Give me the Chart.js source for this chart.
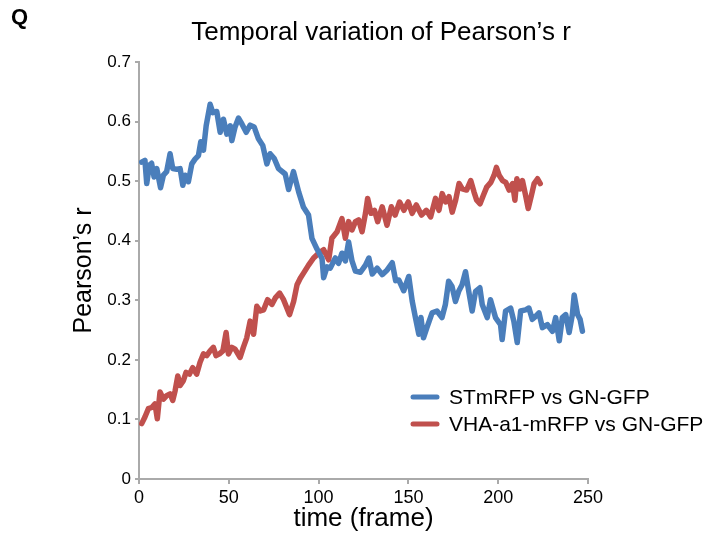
<!DOCTYPE html>
<html>
<head>
<meta charset="utf-8">
<title>Temporal variation of Pearson's r</title>
<script src="https://cdn.jsdelivr.net/npm/chart.js@4/dist/chart.umd.min.js"></script>
<style>
  html, body { margin: 0; padding: 0; background: #fff; }
  #wrap { position: relative; width: 713px; height: 544px; }
</style>
</head>
<body>
<div id="wrap"><canvas id="chart"></canvas></div>
<script>
// Values (frame, Pearson's r)
const blueFrames = [1.5, 3.3, 4.3, 5.8, 7, 8.4, 9.9, 12, 13.6, 15.4, 17.3, 18.8, 21, 22.9, 24.4, 25.7, 27.5, 29.4, 31.2, 33.1,
  34.4, 35.9, 37.4, 39.6, 41.1, 43.3, 45.2, 47, 48.9, 50.8, 51.7, 53.5, 55.4, 57.3, 59.7, 61.9, 64.1, 66.5, 68.9, 71.2,
  73, 75.3, 77.7, 81.4, 83.3, 86, 88.9, 91.6, 94.4, 96.3, 99.1, 101.9, 102.8, 104.7, 106.5, 109.3, 111.1, 113, 114.9, 116.7,
  118.6, 120.5, 123.3, 126.1, 128, 129.9, 132.6, 135.4, 138.2, 141, 142.9, 144.7, 147.4, 150.2, 152.1, 153.9, 155.8, 157, 158.4, 160.3,
  163.2, 165.9, 168.7, 170.6, 172.4, 174.3, 176.2, 178, 179.9, 181.8, 183.6, 185.5, 187.4, 189.8, 191.1, 193.9, 195.7, 198.5, 201.3, 202.2,
  204.1, 206.9, 208.7, 210.6, 212.5, 215.2, 217.1, 219, 220.8, 222.7, 224.6, 227.4, 230.2, 232, 234, 235.7, 237.6, 239.5, 241.3, 242.3,
  244.2, 245.6, 246.9];
const blueValues = [0.532, 0.535, 0.496, 0.527, 0.53, 0.507, 0.521, 0.489, 0.51, 0.516, 0.546, 0.521, 0.52, 0.521, 0.493, 0.51, 0.499, 0.529, 0.537, 0.543,
  0.566, 0.552, 0.593, 0.629, 0.615, 0.617, 0.582, 0.604, 0.579, 0.593, 0.568, 0.591, 0.606, 0.596, 0.582, 0.594, 0.591, 0.571, 0.56, 0.529,
  0.546, 0.538, 0.521, 0.512, 0.486, 0.516, 0.482, 0.456, 0.443, 0.404, 0.386, 0.37, 0.338, 0.356, 0.354, 0.371, 0.362, 0.379, 0.366, 0.398,
  0.366, 0.349, 0.347, 0.359, 0.371, 0.344, 0.354, 0.343, 0.351, 0.363, 0.333, 0.334, 0.316, 0.34, 0.299, 0.271, 0.243, 0.271, 0.237, 0.254,
  0.279, 0.282, 0.271, 0.293, 0.332, 0.323, 0.298, 0.315, 0.326, 0.348, 0.315, 0.282, 0.315, 0.321, 0.293, 0.271, 0.301, 0.271, 0.259, 0.234,
  0.282, 0.287, 0.265, 0.229, 0.282, 0.284, 0.287, 0.268, 0.273, 0.279, 0.254, 0.259, 0.248, 0.271, 0.232, 0.271, 0.276, 0.246, 0.276, 0.309,
  0.276, 0.268, 0.248];

const redFrames = [1.5, 3.3, 5.2, 7.1, 8.9, 10.2, 11.7, 13.6, 15.4, 17.3, 18.8, 20.1, 21.6, 22.9, 24.7, 26.2, 28.1, 29.9, 32.1, 34,
  35.9, 37.7, 39.6, 41.4, 42.9, 44.8, 46.7, 48.5, 49.8, 51.7, 53.5, 56.3, 58.1, 60, 61.9, 63.8, 65.6, 67.5, 69.4, 71.6,
  74, 75.9, 78.3, 80.5, 83.8, 86.1, 88, 89.8, 91.7, 94.4, 97.2, 100, 102.8, 105.6, 107.4, 110.3, 113, 114.9, 116.7, 118.6,
  120.5, 122.3, 124.2, 126.1, 127.3, 129.2, 131.1, 132.9, 135.4, 138.1, 140.5, 142.6, 145.1, 147.5, 149.9, 152.1, 154.4, 157.3, 160, 162.4,
  165.1, 167, 168.8, 170.7, 172.6, 174.4, 176.3, 178.2, 180, 182.4, 184.7, 186.5, 188, 189.9, 191.7, 193.6, 195.9, 197.7, 199, 200.5,
  202.4, 204.2, 206.1, 208, 209.3, 210.4, 212.2, 213.5, 215.4, 216.7, 218.5, 220, 221.9, 223.4];
const redValues = [0.093, 0.104, 0.118, 0.12, 0.126, 0.101, 0.146, 0.134, 0.14, 0.143, 0.132, 0.148, 0.173, 0.157, 0.165, 0.179, 0.176, 0.187, 0.176, 0.196,
  0.21, 0.207, 0.215, 0.221, 0.207, 0.21, 0.215, 0.246, 0.21, 0.221, 0.218, 0.204, 0.221, 0.237, 0.265, 0.243, 0.29, 0.282, 0.284, 0.301,
  0.293, 0.304, 0.312, 0.301, 0.276, 0.298, 0.326, 0.337, 0.346, 0.359, 0.371, 0.379, 0.385, 0.368, 0.404, 0.415, 0.437, 0.404, 0.432, 0.418,
  0.432, 0.435, 0.415, 0.446, 0.471, 0.446, 0.451, 0.432, 0.457, 0.426, 0.457, 0.443, 0.465, 0.451, 0.465, 0.446, 0.46, 0.443, 0.451, 0.44,
  0.471, 0.451, 0.479, 0.465, 0.474, 0.448, 0.468, 0.496, 0.487, 0.485, 0.501, 0.482, 0.468, 0.462, 0.476, 0.49, 0.498, 0.51, 0.523, 0.51,
  0.501, 0.498, 0.485, 0.496, 0.468, 0.504, 0.487, 0.501, 0.474, 0.454, 0.476, 0.496, 0.504, 0.496];

const xTicks = [0, 50, 100, 150, 200, 250];
const yTicks = [0, 0.1, 0.2, 0.3, 0.4, 0.5, 0.6, 0.7];
const seriesNames = ["STmRFP vs GN-GFP", "VHA-a1-mRFP vs GN-GFP"];
const seriesColors = ["#4a7ebb", "#c0504d"];
const chartTitle = "Temporal variation of Pearson\u2019s r";

const FONT = "'Liberation Sans', Arial, sans-serif";
const axisGray = "#aaaaaa";

function toPoints(xs, ys) {
  return xs.map((x, i) => ({ x: x, y: ys[i] }));
}

// title, panel letter and the legend inside the plot (bottom right)
const extras = {
  id: "extras",
  afterDraw(chart) {
    const ctx = chart.ctx;
    ctx.save();
    ctx.fillStyle = "#000";
    ctx.textBaseline = "middle";

    ctx.font = "bold 22px " + FONT;
    ctx.textAlign = "left";
    ctx.fillText("Q", 11, 18);

    ctx.font = "26px " + FONT;
    ctx.textAlign = "center";
    ctx.fillText(chartTitle, 381, 33);

    ctx.font = "21px " + FONT;
    ctx.textAlign = "left";
    chart.data.datasets.forEach((ds, i) => {
      const y = 397 + i * 27;
      ctx.strokeStyle = ds.borderColor;
      ctx.lineWidth = 5;
      ctx.lineCap = "round";
      ctx.beginPath();
      ctx.moveTo(413, y);
      ctx.lineTo(437, y);
      ctx.stroke();
      ctx.fillText(ds.label, 449, y + 1);
    });
    ctx.restore();
  }
};

Chart.defaults.font.family = FONT;
Chart.defaults.color = "#000";

new Chart(document.getElementById("chart"), {
  type: "line",
  data: {
    datasets: [
      {
        label: seriesNames[0],
        data: toPoints(blueFrames, blueValues),
        borderColor: seriesColors[0],
      },
      {
        label: seriesNames[1],
        data: toPoints(redFrames, redValues),
        borderColor: seriesColors[1],
      },
    ],
  },
  options: {
    responsive: true,
    maintainAspectRatio: false,
    animation: false,
    devicePixelRatio: 1,
    layout: { padding: { left: 0, right: 125, top: 62, bottom: 0 } },
    elements: {
      point: { radius: 0 },
      line: { borderWidth: 5.5, tension: 0, borderJoinStyle: "round", borderCapStyle: "round", fill: false },
    },
    plugins: {
      legend: { display: false },
      tooltip: { enabled: false },
      title: { display: false },
    },
    scales: {
      x: {
        type: "linear",
        min: 0,
        max: 250,
        afterBuildTicks: (s) => { s.ticks = xTicks.map((v) => ({ value: v })); },
        afterFit: (s) => { s.height = 65; },
        ticks: { font: { size: 18 }, color: "#000", padding: 3, maxRotation: 0 },
        grid: { drawOnChartArea: false, drawTicks: true, tickLength: 5, color: axisGray, lineWidth: 2 },
        border: { color: axisGray, width: 2 },
        title: { display: true, text: "time (frame)", font: { size: 26 }, color: "#000", padding: { top: 0, bottom: 10 } },
      },
      y: {
        min: 0,
        max: 0.7,
        afterBuildTicks: (s) => { s.ticks = yTicks.map((v) => ({ value: v })); },
        afterFit: (s) => { s.width = 139; },
        ticks: {
          font: { size: 17 },
          color: "#000",
          padding: 4,
          callback: (v) => (v === 0 ? "0" : v.toFixed(1)),
        },
        grid: { drawOnChartArea: false, drawTicks: true, tickLength: 4, color: axisGray, lineWidth: 2 },
        border: { color: axisGray, width: 2 },
        title: { display: true, text: "Pearson\u2019s r", font: { size: 25 }, color: "#000", padding: { top: 69, bottom: 0 } },
      },
    },
  },
  plugins: [extras],
});
</script>
</body>
</html>
